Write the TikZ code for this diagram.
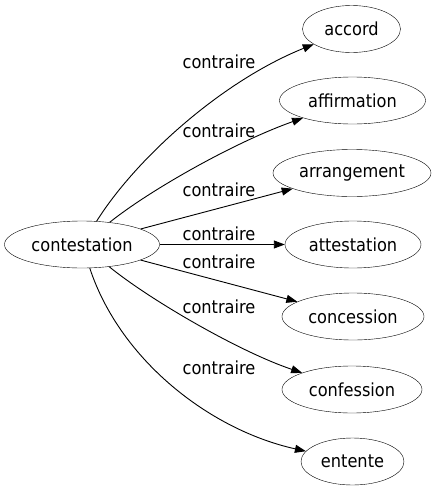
\documentclass[tikz,border=0pt]{standalone}
\usepackage{fontspec}
\setmainfont{DejaVu Sans Condensed}
\usetikzlibrary{arrows.meta,shapes.geometric}
\begin{document}
\begin{tikzpicture}[x=1pt,y=-1pt,
  word/.style={draw,ellipse,inner sep=0pt,minimum height=47pt,font=\fontsize{18}{20}\selectfont},
  lbl/.style={inner sep=0pt,font=\fontsize{18}{20}\selectfont},
  edge/.style={draw,line width=0.9pt,-{Triangle[length=11pt,width=8pt]}}]
\useasboundingbox (0,0) rectangle (437,491);
\node[word,minimum width=155pt] (contestation) at (82,244.5) {contestation};
\node[word,minimum width=98pt] (accord) at (351.5,29) {accord};
\node[word,minimum width=146pt] (affirmation) at (352.5,100.5) {affirmation};
\node[word,minimum width=158pt] (arrangement) at (352,173) {arrangement};
\node[word,minimum width=136pt] (attestation) at (353,244.5) {attestation};
\node[word,minimum width=142pt] (concession) at (353,316.5) {concession};
\node[word,minimum width=140pt] (confession) at (352,389.5) {confession};
\node[word,minimum width=103pt] (entente) at (352.5,461.5) {entente};
\path[edge] (contestation) .. controls (135,160) and (220,82) .. (accord);
\path[edge] (contestation) .. controls (150,190) and (235,142) .. (affirmation);
\path[edge] (contestation) -- (arrangement);
\path[edge] (contestation) -- (attestation);
\path[edge] (contestation) -- (concession);
\path[edge] (contestation) .. controls (150,300) and (240,352) .. (confession);
\path[edge] (contestation) .. controls (120,360) and (210,430) .. (entente);
\node[lbl] (l1) at (219,62) {contraire};
\node[lbl] (l2) at (219,131) {contraire};
\node[lbl] (l3) at (219,190) {contraire};
\node[lbl] (l4) at (219,234) {contraire};
\node[lbl] (l5) at (219,262) {contraire};
\node[lbl] (l6) at (219,307) {contraire};
\node[lbl] (l7) at (219,368) {contraire};
\end{tikzpicture}
\end{document}
